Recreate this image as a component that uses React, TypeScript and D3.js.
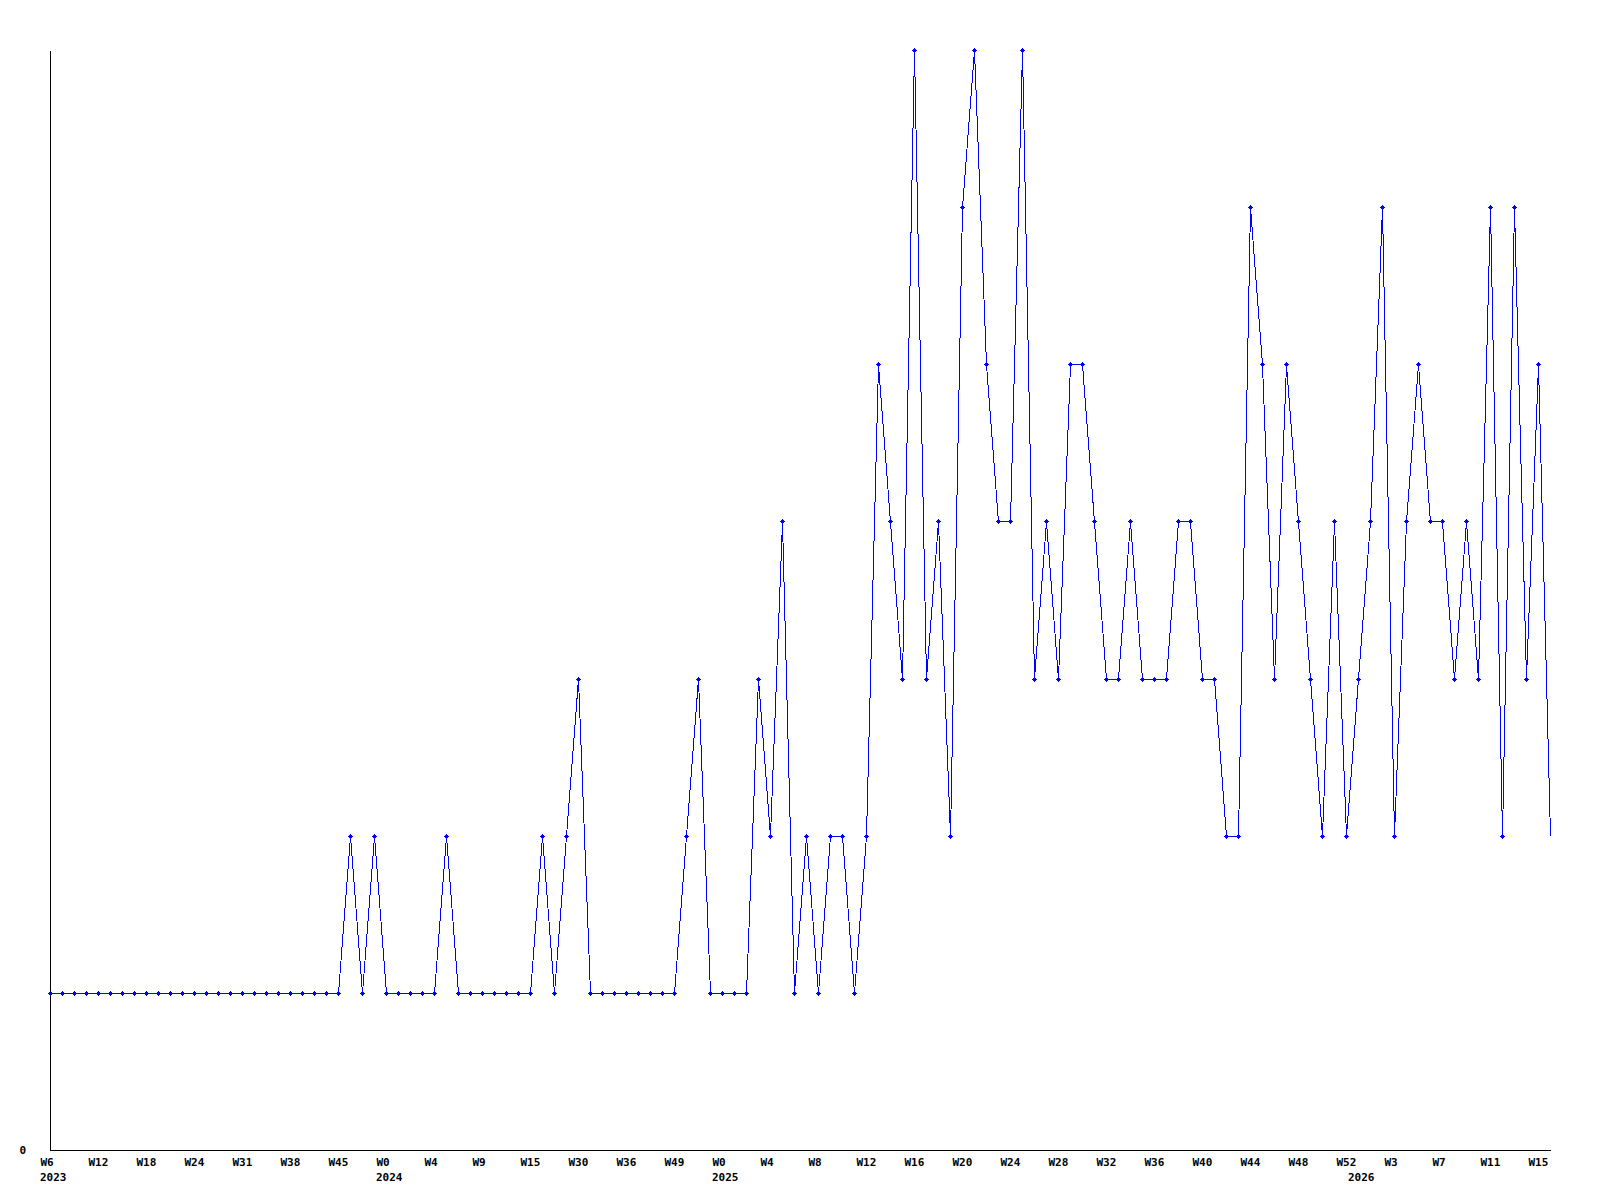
import React, { useEffect, useRef } from 'react';
import * as d3 from 'd3';

// week numbers per year, one point each
const weeks2023 = [6, 7, 9, 10, 12, 13, 15, 16, 18, 19, 21, 22, 24, 26, 27, 29, 31, 33, 34, 36, 38, 40, 41, 43, 45, 47, 49, 51];
const weeks2024 = [0, 1, 2, 3, 4, 5, 6, 8, 9, 10, 12, 13, 15, 19, 23, 27, 30, 31, 33, 35, 36, 39, 42, 46, 49, 50, 51, 52];
const weeks2025 = [0, 1, 2, 3, 4, 5, 6, 7, 8, 9, 10, 11, 12, 13, 14, 15, 16, 17, 18, 19, 20, 21, 22, 23, 24, 25, 26, 27, 28, 29, 30, 31, 32, 33, 34, 35, 36, 37, 38, 39, 40, 41, 42, 43, 44, 45, 46, 47, 48, 49, 50, 51, 52];
const weeks2026 = [0, 1, 2, 3, 4, 5, 6, 7, 8, 9, 10, 11, 12, 13, 14, 15, 16];

// counts per week
const values2023 = [1, 1, 1, 1, 1, 1, 1, 1, 1, 1, 1, 1, 1, 1, 1, 1, 1, 1, 1, 1, 1, 1, 1, 1, 1, 2, 1, 2];
const values2024 = [1, 1, 1, 1, 1, 2, 1, 1, 1, 1, 1, 1, 1, 2, 1, 2, 3, 1, 1, 1, 1, 1, 1, 1, 1, 2, 3, 1];
const values2025 = [1, 1, 1, 3, 2, 4, 1, 2, 1, 2, 2, 1, 2, 5, 4, 3, 7, 3, 4, 2, 6, 7, 5, 4, 4, 7, 3, 4, 3, 5, 5, 4, 3, 3, 4, 3, 3, 3, 4, 4, 3, 3, 2, 2, 6, 5, 3, 5, 4, 3, 2, 4, 2];
const values2026 = [3, 4, 6, 2, 4, 5, 4, 4, 3, 4, 3, 6, 2, 6, 3, 5, 2];

const years = [2023, 2024, 2025, 2026];
const yTicks = [0];
const yMax = 7;

// small bold plus used as point marker
const marker = 'M-2.5,-0.5H2.5V0.5H-2.5Z M-0.5,-2.5H0.5V2.5H-0.5Z M-1.5,-1.5H1.5V1.5H-1.5Z';

const App = () => {
  const chartRef = useRef<HTMLDivElement>(null);

  useEffect(() => {
    const weekLists = [weeks2023, weeks2024, weeks2025, weeks2026];
    const valueLists = [values2023, values2024, values2025, values2026];

    const data: { key: string; year: number; week: number; value: number; first: boolean }[] = [];
    years.forEach((year, yi) => {
      weekLists[yi].forEach((week, wi) => {
        data.push({ key: `${year}-W${week}`, year, week, value: valueLists[yi][wi], first: wi === 0 });
      });
    });

    const width = 1600;
    const height = 1200;
    const margin = { top: 50, right: 50, bottom: 50, left: 50 };
    const font = '"DejaVu Sans Mono", monospace';

    const xScale = d3.scalePoint<string>()
      .domain(data.map(d => d.key))
      .range([margin.left, width - margin.right]);

    const yScale = d3.scaleLinear()
      .domain([0, yMax])
      .range([height - margin.bottom, margin.top]);

    d3.select(chartRef.current).selectAll('*').remove();

    const svg = d3.select(chartRef.current)
      .append('svg')
      .attr('width', width)
      .attr('height', height)
      .style('position', 'absolute')
      .style('left', '0px')
      .style('top', '0px')
      .style('background', '#fff');

    // y axis, only the zero label
    const yAxis = svg.append('g')
      .attr('transform', `translate(${margin.left}, 0)`)
      .call(d3.axisLeft(yScale).tickValues(yTicks).tickFormat(d3.format('d')).tickSize(0).tickPadding(24));
    yAxis.select('.domain').attr('stroke', '#000').attr('shape-rendering', 'crispEdges');
    yAxis.selectAll('text')
      .attr('font-family', font)
      .attr('font-weight', 'bold')
      .attr('font-size', 11)
      .attr('fill', '#000');

    // x axis, labels every 4th point
    const tickKeys = data.filter((_, i) => i % 4 === 0).map(d => d.key);
    const xAxis = svg.append('g')
      .attr('transform', `translate(0, ${height - margin.bottom})`)
      .call(d3.axisBottom(xScale).tickValues(tickKeys).tickSize(0).tickSizeOuter(0)
        .tickFormat(k => 'W' + k.split('-W')[1]));
    xAxis.select('.domain').attr('stroke', '#000').attr('shape-rendering', 'crispEdges');
    xAxis.selectAll('text')
      .attr('font-family', font)
      .attr('font-weight', 'bold')
      .attr('font-size', 11)
      .attr('fill', '#000')
      .attr('text-anchor', 'start')
      .attr('x', -10)
      .attr('y', 16)
      .attr('dy', null);

    // year labels under first week of each year
    svg.append('g')
      .selectAll('text')
      .data(data.filter(d => d.first))
      .join('text')
      .attr('x', d => (xScale(d.key) as number) - 10)
      .attr('y', height - margin.bottom + 31)
      .attr('font-family', font)
      .attr('font-weight', 'bold')
      .attr('font-size', 11)
      .attr('fill', '#000')
      .text(d => d.year);

    const line = d3.line<typeof data[number]>()
      .x(d => xScale(d.key) as number)
      .y(d => yScale(d.value));

    const plot = svg.append('g').attr('transform', 'translate(0.5, 0.5)');

    plot.append('path')
      .datum(data)
      .attr('d', line)
      .attr('fill', 'none')
      .attr('stroke', '#0000ff')
      .attr('stroke-width', 1)
      .attr('shape-rendering', 'crispEdges');

    // markers (the one on the right edge is not drawn)
    plot.selectAll('.pt')
      .data(data.slice(0, -1))
      .join('path')
      .attr('class', 'pt')
      .attr('d', marker)
      .attr('transform', d => `translate(${Math.round(xScale(d.key) as number)}, ${Math.round(yScale(d.value))})`)
      .attr('fill', '#0000ff')
      .attr('shape-rendering', 'crispEdges');
  }, []);

  return <div ref={chartRef}></div>;
};

export default App;
